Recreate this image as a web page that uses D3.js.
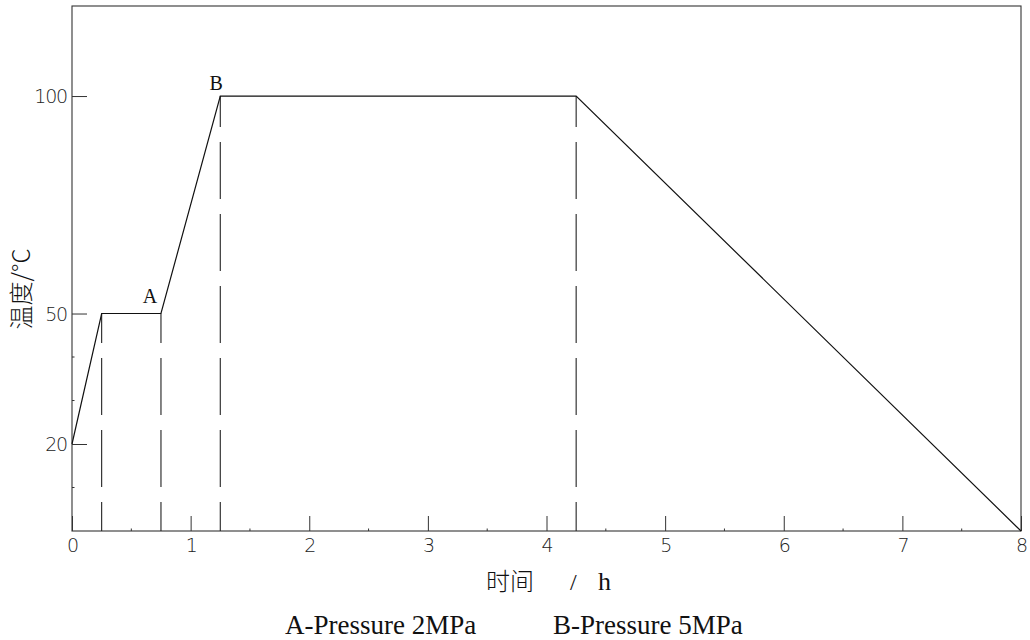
<!DOCTYPE html>
<html>
<head>
<meta charset="utf-8">
<script src="https://cdn.jsdelivr.net/npm/d3@7"></script>
<style>
  html, body { margin: 0; padding: 0; background: #fff; }
  svg { display: block; }
  .num { font-family: "DejaVu Sans", sans-serif; font-weight: 200; font-size: 19px; letter-spacing: -1.2px; fill: #222; }
  .serif { font-family: "Liberation Serif", "Times New Roman", serif; fill: #111; }
  .cjk { font-family: "Noto Sans CJK SC", sans-serif; font-weight: 300; fill: #111; }
</style>
</head>
<body>
<svg id="chart" width="1030" height="640"></svg>
<script>
// Curing schedule: time (h) vs temperature (°C)
const timeH = [0, 0.25, 0.75, 1.25, 4.25, 8];
const tempC = [20, 50, 50, 100, 100, 0];

// Stage boundaries marked with dashed drop lines
const guideTimes = [0.25, 0.75, 1.25, 4.25];

// Pressure stage markers
const stageLabels = ["A", "B"];
const stageTimes = [0.75, 1.25];
const stageTemps = [50, 100];
const legendTexts = ["A-Pressure 2MPa", "B-Pressure 5MPa"];

// Axis ticks
const xTicks = [0, 1, 2, 3, 4, 5, 6, 7, 8];
const xMinorTicks = [0.5, 1.5, 2.5, 3.5, 4.5, 5.5, 6.5, 7.5];
const yTicks = [20, 50, 100];
const yMinorTicks = [10, 30, 40];

const svg = d3.select("#chart");
const plotL = 72, plotR = 1021, plotT = 6, plotB = 531;

const x = d3.scaleLinear().domain([0, 8]).range([plotL, plotR]);
const y = d3.scaleLinear().domain([0, 120.7]).range([plotB, plotT]);

// Plot frame
svg.append("rect")
  .attr("x", plotL).attr("y", plotT)
  .attr("width", plotR - plotL).attr("height", plotB - plotT)
  .attr("fill", "none").attr("stroke", "#333").attr("stroke-width", 1.1);

// Bottom axis: major ticks point inward
const xAxis = d3.axisBottom(x).tickValues(xTicks).tickSize(0).tickPadding(6).tickFormat(d3.format("d"));
const gx = svg.append("g").attr("transform", `translate(0,${plotB})`).call(xAxis);
gx.select(".domain").remove();
gx.selectAll("text").attr("class", "num").attr("dy", null).attr("y", 21).attr("fill", null);
gx.selectAll(".tick").append("line").attr("y1", 0).attr("y2", -15).attr("stroke", "#333");

svg.append("g").selectAll("line").data(xMinorTicks).join("line")
  .attr("x1", d => x(d)).attr("x2", d => x(d))
  .attr("y1", plotB).attr("y2", plotB - 2.5)
  .attr("stroke", "#333");

// Left axis
const yAxis = d3.axisLeft(y).tickValues(yTicks).tickSize(0).tickPadding(6).tickFormat(d3.format("d"));
const gy = svg.append("g").attr("transform", `translate(${plotL},0)`).call(yAxis);
gy.select(".domain").remove();
gy.selectAll("text").attr("class", "num").attr("fill", null).attr("dy", "0.36em").attr("x", -5);
gy.selectAll(".tick").append("line").attr("x1", 0).attr("x2", 15).attr("stroke", "#333");

svg.append("g").selectAll("line").data(yMinorTicks).join("line")
  .attr("x1", plotL).attr("x2", plotL + 2.5)
  .attr("y1", d => y(d)).attr("y2", d => y(d))
  .attr("stroke", "#333");

// Dashed drop lines, drawn upward from the time axis
const tempAt = t => tempC[timeH.indexOf(t)];
svg.append("g").selectAll("line").data(guideTimes).join("line")
  .attr("x1", d => x(d)).attr("x2", d => x(d))
  .attr("y1", plotB).attr("y2", d => y(tempAt(d)))
  .attr("stroke", "#222").attr("stroke-width", 1.1)
  .attr("stroke-dasharray", "57,15")
  .attr("stroke-dashoffset", 28);

// Temperature profile
const line = d3.line().x((d, i) => x(timeH[i])).y(d => y(d));
svg.append("path")
  .datum(tempC)
  .attr("d", line)
  .attr("fill", "none").attr("stroke", "#111").attr("stroke-width", 1.2);

// Stage letters
const labelOffsets = [[-11, -11], [-4, -6]];
svg.append("g").selectAll("text").data(stageLabels).join("text")
  .attr("class", "serif")
  .attr("x", (d, i) => x(stageTimes[i]) + labelOffsets[i][0])
  .attr("y", (d, i) => y(stageTemps[i]) + labelOffsets[i][1])
  .attr("text-anchor", "middle")
  .attr("font-size", 20)
  .text(d => d);

// Axis titles
svg.append("text")
  .attr("class", "cjk")
  .attr("transform", "translate(30,289) rotate(-90)")
  .attr("text-anchor", "middle")
  .attr("font-size", 24)
  .text("温度/°C");

const xt = svg.append("text").attr("y", 590).attr("font-size", 24);
xt.append("tspan").attr("class", "cjk").attr("x", 486).text("时间");
xt.append("tspan").attr("class", "serif").attr("x", 570).text("/");
xt.append("tspan").attr("class", "serif").attr("x", 598).attr("font-size", 26).text("h");

// Pressure legend
const legendX = [285, 553];
svg.append("g").selectAll("text").data(legendTexts).join("text")
  .attr("class", "serif")
  .attr("x", (d, i) => legendX[i])
  .attr("y", 634)
  .attr("font-size", 27)
  .text(d => d);
</script>
</body>
</html>
